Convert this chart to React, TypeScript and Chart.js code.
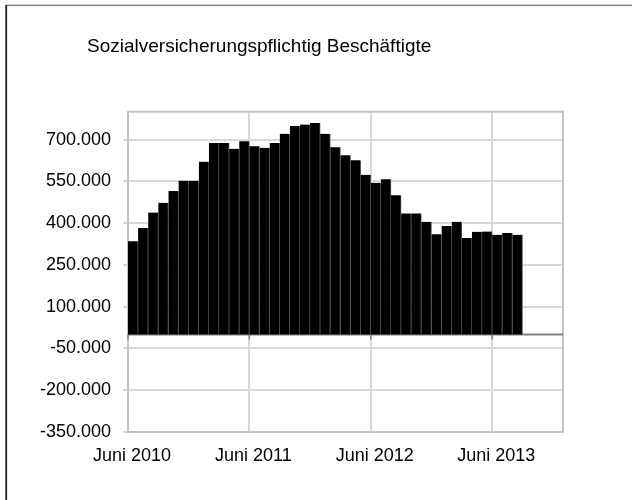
import React, { useEffect, useRef } from 'react';
import { Chart, registerables } from 'chart.js';

Chart.register(...registerables);

const TITLE = 'Sozialversicherungspflichtig Beschäftigte';

const months: string[] = [
  'Juni 2010', 'Juli 2010', 'Aug 2010', 'Sep 2010', 'Okt 2010', 'Nov 2010', 'Dez 2010',
  'Jan 2011', 'Feb 2011', 'Mär 2011', 'Apr 2011', 'Mai 2011', 'Juni 2011', 'Juli 2011',
  'Aug 2011', 'Sep 2011', 'Okt 2011', 'Nov 2011', 'Dez 2011',
  'Jan 2012', 'Feb 2012', 'Mär 2012', 'Apr 2012', 'Mai 2012', 'Juni 2012', 'Juli 2012',
  'Aug 2012', 'Sep 2012', 'Okt 2012', 'Nov 2012', 'Dez 2012',
  'Jan 2013', 'Feb 2013', 'Mär 2013', 'Apr 2013', 'Mai 2013', 'Juni 2013', 'Juli 2013',
  'Aug 2013',
];

const beschaeftigte: number[] = [
  335000, 383000, 438000, 473000, 516000, 552000, 552000,
  621000, 688000, 688000, 667000, 694000, 676000, 671000,
  688000, 721000, 749000, 754000, 760000,
  721000, 673000, 644000, 626000, 574000, 545000, 558000,
  500000, 435000, 435000, 405000, 360000,
  390000, 405000, 347000, 369000, 370000, 358000, 365000,
  358000,
];

const yTickValues: number[] = [-350000, -200000, -50000, 100000, 250000, 400000, 550000, 700000];
const Y_MIN = -350000;
const Y_MAX = 800000;
const X_MONTHS_SPAN = 43;

const FONT = "'Liberation Sans', Arial, Helvetica, sans-serif";

function fmtDe(v: number): string {
  const s = Math.round(Math.abs(v)).toString().replace(/\B(?=(\d{3})+(?!\d))/g, '.');
  return (v < 0 ? '-' : '') + s;
}

const xTickIdx: number[] = months
  .map((m, i) => (m.startsWith('Juni') ? i : -1))
  .filter((i) => i >= 0);

const decorPlugin = {
  id: 'decor',
  afterLayout(chart: any) {
    if (chart.titleBlock) chart.titleBlock.left = 87;
  },
  beforeDraw(chart: any) {
    const ctx = chart.ctx;
    ctx.save();
    ctx.fillStyle = '#ffffff';
    ctx.fillRect(0, 0, chart.width, chart.height);
    ctx.fillStyle = '#8a8a8a';
    ctx.fillRect(6, 4.5, chart.width - 6, 1.6);
    ctx.fillStyle = '#1e1e1e';
    ctx.fillRect(5.3, 5, 1.8, chart.height - 5);
    ctx.restore();
  },
  beforeDatasetsDraw(chart: any) {
    const ctx = chart.ctx;
    const a = chart.chartArea;
    const ys = chart.scales.y;
    const xs = chart.scales.x;
    ctx.save();
    ctx.strokeStyle = '#c4c4c4';
    ctx.lineWidth = 2;
    ctx.beginPath();
    ctx.moveTo(a.left, a.top);
    ctx.lineTo(a.right, a.top);
    ctx.lineTo(a.right, a.bottom);
    ctx.stroke();
    const y0 = ys.getPixelForValue(0);
    ctx.strokeStyle = '#7f7f7f';
    ctx.lineWidth = 2;
    ctx.beginPath();
    ctx.moveTo(a.left, y0);
    ctx.lineTo(a.right, y0);
    ctx.stroke();
    ctx.lineWidth = 1.5;
    xTickIdx.forEach((i) => {
      const px = xs.getPixelForValue(i);
      ctx.beginPath();
      ctx.moveTo(px, y0);
      ctx.lineTo(px, y0 + 5);
      ctx.stroke();
    });
    ctx.restore();
  },
};

export default function App() {
  const ref = useRef<HTMLCanvasElement | null>(null);

  useEffect(() => {
    if (!ref.current) return;
    const chart = new Chart(ref.current, {
      type: 'bar',
      data: {
        datasets: [
          {
            label: TITLE,
            data: beschaeftigte.map((v, i) => ({ x: i + 0.5, y: v })),
            backgroundColor: '#000000',
            borderColor: '#5a5a5a',
            borderWidth: { top: 0, right: 1, bottom: 0, left: 0 },
            borderSkipped: false,
            barPercentage: 1,
            categoryPercentage: 1,
          },
        ],
      },
      options: {
        responsive: false,
        animation: false,
        devicePixelRatio: 1,
        layout: { padding: { left: 20, right: 69, top: 0, bottom: 38 } },
        plugins: {
          legend: { display: false },
          tooltip: { enabled: false },
          title: {
            display: true,
            text: TITLE,
            align: 'start',
            color: '#000000',
            font: { family: FONT, size: 19, weight: 'normal' },
            padding: { top: 35, bottom: 54 },
          },
        },
        scales: {
          x: {
            type: 'linear',
            min: 0,
            max: X_MONTHS_SPAN,
            offset: false,
            afterBuildTicks: (s: any) => {
              s.ticks = xTickIdx.map((v) => ({ value: v }));
            },
            afterFit: (s: any) => {
              s.height = 30;
            },
            ticks: {
              autoSkip: false,
              maxRotation: 0,
              padding: 13,
              labelOffset: 4,
              color: '#000000',
              font: { family: FONT, size: 18 },
              callback: (v: any) => months[v as number] ?? '',
            },
            grid: { color: '#d8d8d8', lineWidth: 2, drawTicks: false, offset: false },
            border: { display: true, color: '#c4c4c4', width: 2 },
          },
          y: {
            type: 'linear',
            min: Y_MIN,
            max: Y_MAX,
            afterBuildTicks: (s: any) => {
              s.ticks = yTickValues.map((v) => ({ value: v }));
            },
            afterFit: (s: any) => {
              s.width = 108;
            },
            ticks: {
              padding: 12,
              color: '#000000',
              font: { family: FONT, size: 18 },
              callback: (v: any) => fmtDe(Number(v)),
            },
            grid: { color: '#d8d8d8', lineWidth: 2, drawTicks: true, tickLength: 5 },
            border: { display: true, color: '#c4c4c4', width: 2 },
          },
        },
      },
      plugins: [decorPlugin],
    } as any);
    return () => chart.destroy();
  }, []);

  return (
    <canvas
      ref={ref}
      width={632}
      height={500}
      style={{ position: 'fixed', left: 0, top: 0, width: 632, height: 500, display: 'block' }}
    />
  );
}
